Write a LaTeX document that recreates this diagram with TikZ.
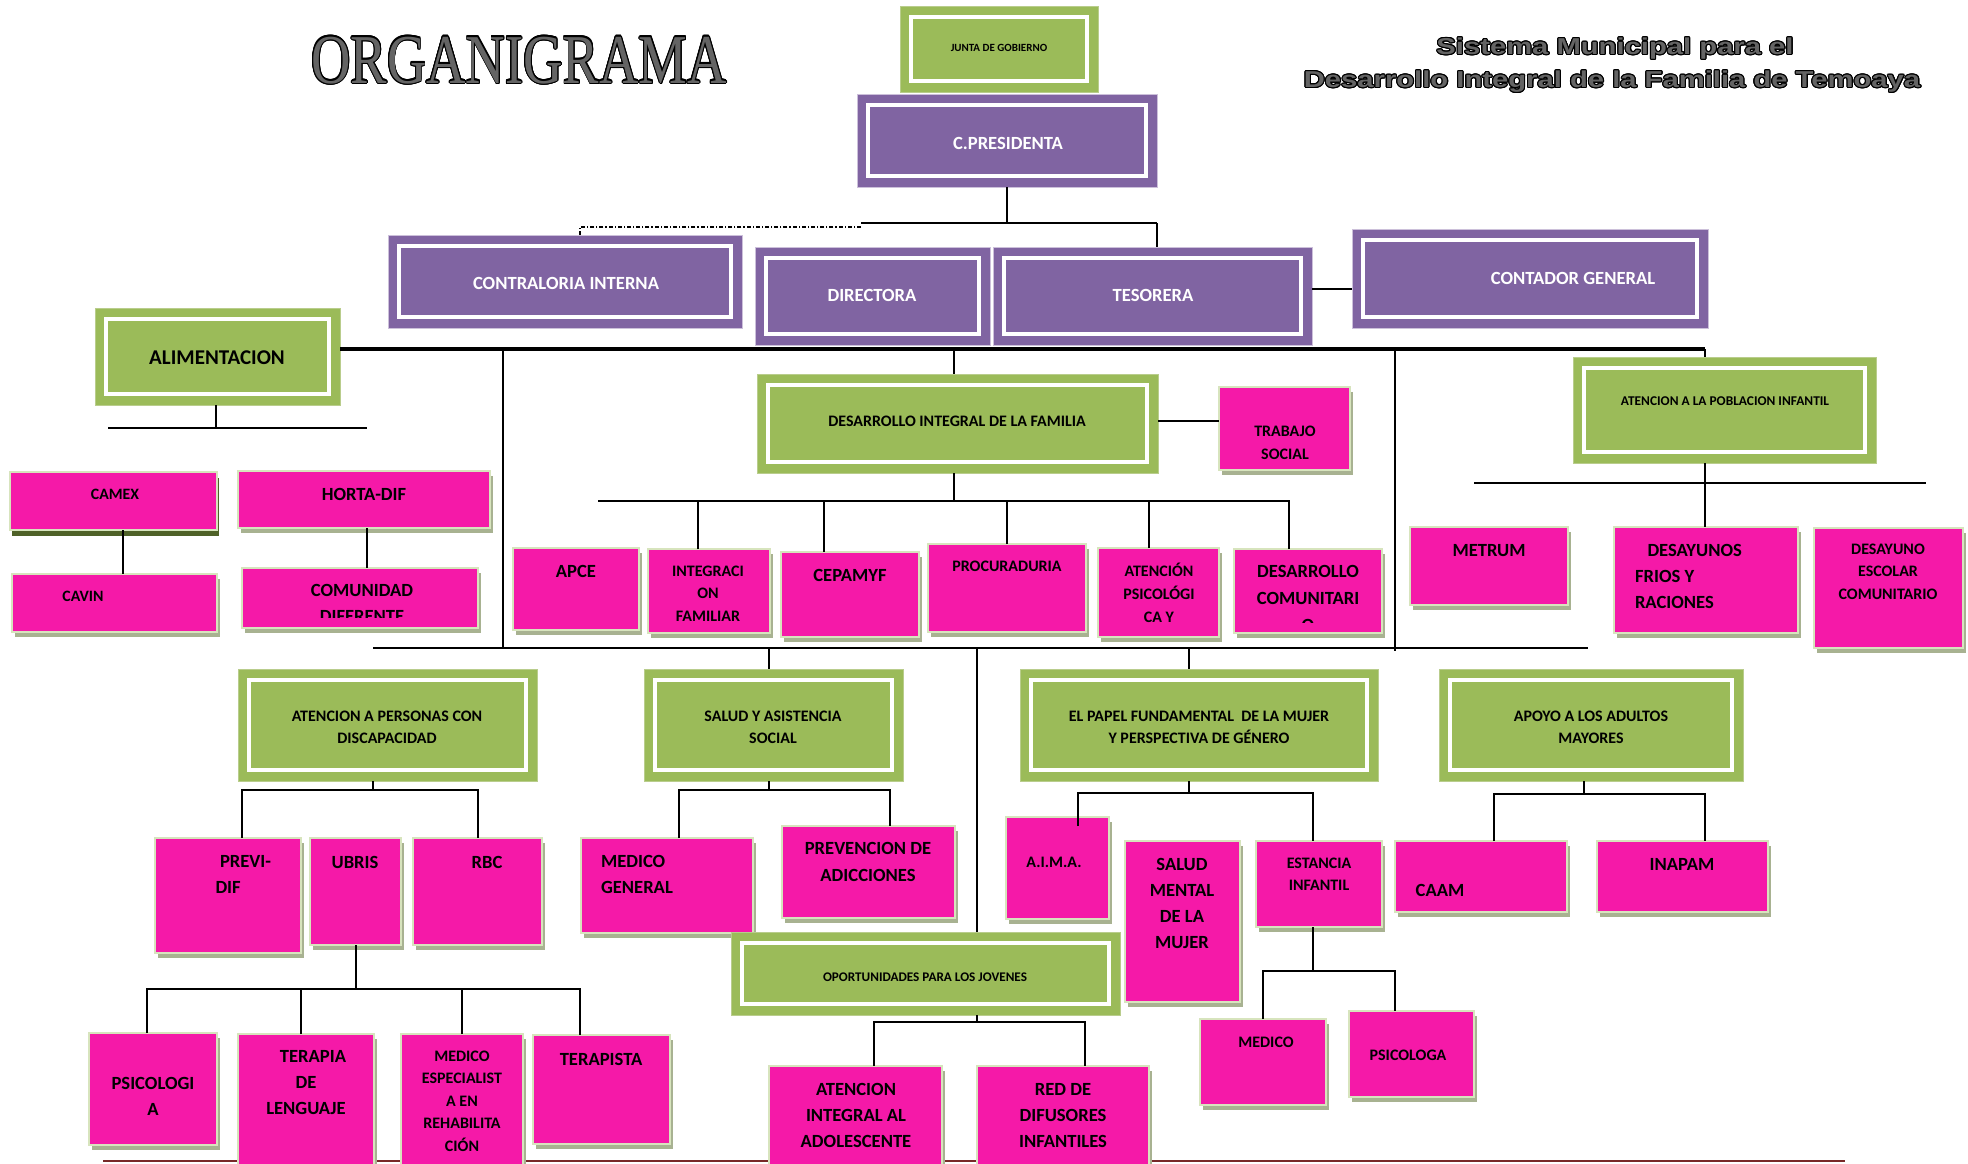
\documentclass[tikz,border=0pt]{standalone}
\usepackage{fontspec}
\setmainfont{Carlito}
\newfontfamily\serifT{Liberation Serif}
\newfontfamily\sansT{Liberation Sans}
\usepackage{graphicx}
\usepackage{contour}
\contourlength{0.6pt}
\usetikzlibrary{shadows}
\definecolor{greenc}{RGB}{155,187,89}
\definecolor{greenedge}{RGB}{185,205,140}
\definecolor{purplec}{RGB}{128,100,162}
\definecolor{purpleedge}{RGB}{204,192,218}
\definecolor{pinkc}{RGB}{245,25,168}
\definecolor{pborder}{RGB}{215,228,189}
\definecolor{shadowc}{RGB}{168,178,145}
\definecolor{camexsh}{RGB}{79,98,40}
\definecolor{bottomc}{RGB}{120,40,40}
\definecolor{titlegray}{RGB}{100,100,100}
\tikzset{
  every node/.style={inner sep=0pt, outer sep=0pt},
  insetwhite/.style={path picture={\draw[white, line width=2.2pt]
      ([shift={(5.5pt,-5.5pt)}]path picture bounding box.north west) rectangle
      ([shift={(-5.5pt,5.5pt)}]path picture bounding box.south east);}},
  greenb/.style={rectangle, fill=greenc, draw=greenedge, line width=0.5pt, insetwhite},
  purpleb/.style={rectangle, fill=purplec, draw=purpleedge, line width=0.5pt, insetwhite},
  pinkb/.style={rectangle, fill=pinkc, draw=pborder, line width=1.2pt,
      drop shadow={shadow xshift=1.5pt, shadow yshift=-2.5pt, fill=shadowc, opacity=1}},
  camexb/.style={rectangle, fill=pinkc, draw=pborder, line width=1.2pt,
      drop shadow={shadow xshift=1.2pt, shadow yshift=-3pt, fill=camexsh, opacity=1}},
  conn/.style={draw=black, line width=1pt},
  bus/.style={draw=black, line width=1.3pt},
  mainbus/.style={draw=black, line width=1.6pt},
  dashl/.style={draw=black, line width=0.6pt, dash pattern=on 2pt off 1pt on 0.6pt off 1pt},
  tA/.style={font=\fontsize{9.3}{13}\selectfont\bfseries, align=center},
  tB/.style={font=\fontsize{8}{11.25}\selectfont\bfseries, align=center},
  tG/.style={font=\fontsize{8}{11}\selectfont\bfseries, align=center},
  tW/.style={font=\fontsize{9.3}{12}\selectfont\bfseries, text=white},
  tS/.style={font=\fontsize{6.7}{9}\selectfont\bfseries},
}
\newcommand\bx[6]{\node[#1, minimum width={(#5-#3)*0.5pt}, minimum height={(#6-#4)*0.5pt}] (#2) at ({(#3+#5)/2},{(#4+#6)/2}) {};}
\begin{document}
\begin{tikzpicture}[x=0.5pt, y=-0.5pt]
\useasboundingbox (0,0) rectangle (1968,1163);
% bottom line
\coordinate (bl1) at (103,1161); \coordinate (bl2) at (1845,1161);
\draw[draw=bottomc, line width=1pt] (bl1) -- (bl2);

% titles
\node[anchor=base] (title) at (519,83) {\serifT\fontsize{35}{35}\selectfont\scalebox{0.78}[1]{\contourlength{0.55pt}\contour{black}{\textcolor{titlegray}{ORGANIGRAMA}}}};
\node[anchor=base] (sub1) at (1615,54.5) {\sansT\bfseries\fontsize{11.5}{12}\selectfont\scalebox{1.27}[1]{\contourlength{0.45pt}\contour{black}{\textcolor{titlegray}{Sistema Municipal para el}}}};
\node[anchor=base] (sub2) at (1612,87.5) {\sansT\bfseries\fontsize{11.5}{12}\selectfont\scalebox{1.27}[1]{\contourlength{0.45pt}\contour{black}{\textcolor{titlegray}{Desarrollo Integral de la Familia de Temoaya}}}};

% ---------- boxes ----------
\bx{greenb}{junta}{900}{6}{1098}{92}
\bx{purpleb}{pres}{857}{94}{1157}{187}
\bx{purpleb}{contra}{388}{235}{742}{328}
\bx{purpleb}{direc}{755}{247}{990}{345}
\bx{purpleb}{teso}{993}{247}{1312}{345}
\bx{purpleb}{conta}{1352}{229}{1708}{328}
\bx{greenb}{alim}{95}{308}{340}{405}
\bx{greenb}{dif}{757}{374}{1158}{473}
\bx{pinkb}{trab}{1219}{387}{1350}{470}
\bx{greenb}{infan}{1573}{357}{1876}{463}
\bx{camexb}{camex}{10}{472}{217}{530}
\bx{pinkb}{cavin}{12}{574}{217}{632}
\bx{pinkb}{horta}{238}{471}{490}{528}
\bx{pinkb}{comun}{242}{568}{478}{628}
\bx{pinkb}{apce}{513}{548}{639}{630}
\bx{pinkb}{integ}{648}{549}{770}{633}
\bx{pinkb}{cepa}{781}{552}{919}{637}
\bx{pinkb}{procu}{928}{544}{1086}{632}
\bx{pinkb}{psico}{1098}{548}{1219}{637}
\bx{pinkb}{desco}{1234}{549}{1382}{633}
\bx{pinkb}{metrum}{1410}{527}{1568}{605}
\bx{pinkb}{desay}{1614}{527}{1798}{633}
\bx{pinkb}{desesc}{1814}{528}{1963}{648}
\bx{greenb}{dis}{238}{669}{537}{781}
\bx{greenb}{salud}{644}{669}{903}{781}
\bx{greenb}{papel}{1020}{669}{1378}{781}
\bx{greenb}{apoyo}{1439}{669}{1743}{781}
\bx{pinkb}{previ}{155}{838}{301}{953}
\bx{pinkb}{ubris}{310}{838}{401}{945}
\bx{pinkb}{rbc}{413}{838}{542}{945}
\bx{pinkb}{psicol}{89}{1033}{217}{1145}
\bx{pinkb}{terap}{238}{1034}{374}{1172}
\bx{pinkb}{medesp}{401}{1034}{523}{1172}
\bx{pinkb}{terapista}{533}{1035}{670}{1144}
\bx{pinkb}{medgen}{581}{838}{753}{933}
\bx{pinkb}{prev}{782}{826}{955}{918}
\bx{greenb}{oport}{731}{932}{1120}{1015}
\bx{pinkb}{adol}{769}{1066}{942}{1172}
\bx{pinkb}{red}{977}{1066}{1149}{1172}
\bx{pinkb}{aima}{1006}{817}{1109}{919}
\bx{pinkb}{salme}{1125}{841}{1240}{1002}
\bx{pinkb}{estan}{1256}{841}{1382}{927}
\bx{pinkb}{medico}{1200}{1019}{1326}{1105}
\bx{pinkb}{psicologa}{1349}{1011}{1474}{1097}
\bx{pinkb}{caam}{1395}{841}{1567}{912}
\bx{pinkb}{inapam}{1597}{841}{1768}{912}

% ---------- texts ----------
\node[font=\fontsize{5.5}{6}\selectfont\bfseries] (junta-t) at (999,48) {JUNTA DE GOBIERNO};
\node[tW] (pres-t) at (1008,143) {C.PRESIDENTA};
\node[tW] (contra-t) at (566,283) {CONTRALORIA INTERNA};
\node[tW] (direc-t) at (872,295) {DIRECTORA};
\node[tW] (teso-t) at (1153,295) {TESORERA};
\node[tW] (conta-t) at (1573,278) {CONTADOR GENERAL};
\node[font=\fontsize{10.5}{12}\selectfont\bfseries] (alim-t) at (217,358) {ALIMENTACION};
\node[tB] (dif-t) at (957,421) {DESARROLLO INTEGRAL DE LA FAMILIA};
\node[tB, font=\fontsize{8}{11.5}\selectfont\bfseries] (trab-t) at (1285,442.5) {TRABAJO\\SOCIAL};
\node[tS] (infan-t) at (1725,401) {ATENCION A LA POBLACION INFANTIL};
\node[font=\fontsize{7.9}{10}\selectfont\bfseries] (camex-t) at (115,494) {CAMEX};
\node[font=\fontsize{7.9}{10}\selectfont\bfseries] (cavin-t) at (83,596) {CAVIN};
\node[tA] (horta-t) at (364,494) {HORTA-DIF};
\begin{scope}
\clip (comun.north west) rectangle (478,617);
\node[tA] (comun-t) at (362,603) {COMUNIDAD\\DIFERENTE};
\end{scope}
\node[tA] (apce-t) at (576,571) {APCE};
\node[tB] (integ-t) at (708,593.5) {INTEGRACI\\ON\\FAMILIAR};
\node[tA] (cepa-t) at (850,575) {CEPAMYF};
\node[tB] (procu-t) at (1007,566) {PROCURADURIA};
\node[tB, font=\fontsize{8}{11.5}\selectfont\bfseries] (psico-t) at (1159,593) {ATENCIÓN\\PSICOLÓGI\\CA Y};
\begin{scope}
\clip (desco.north west) rectangle (1382,622);
\node[tA, font=\fontsize{9.3}{13.5}\selectfont\bfseries] (desco-t) at (1308,598) {DESARROLLO\\COMUNITARI\\O};
\end{scope}
\node[tA] (metrum-t) at (1489,551) {METRUM};
\node[tA, align=left, anchor=west] (desay-t) at (1635,576.5) {\hspace*{6.25pt}DESAYUNOS\\FRIOS Y\\RACIONES};
\node[tB] (desesc-t) at (1888,571.5) {DESAYUNO\\ESCOLAR\\COMUNITARIO};
\node[tG] (dis-t) at (387,727) {ATENCION A PERSONAS CON\\DISCAPACIDAD};
\node[tG] (salud-t) at (773,727) {SALUD Y ASISTENCIA\\SOCIAL};
\node[tG] (papel-t) at (1199,727) {EL PAPEL FUNDAMENTAL\ \ DE LA MUJER\\Y PERSPECTIVA DE GÉNERO};
\node[tG] (apoyo-t) at (1591,727) {APOYO A LOS ADULTOS\\MAYORES};
\node[tA, align=left, anchor=west] (previ-t) at (215.5,874.5) {\hspace*{2.25pt}PREVI-\\DIF};
\node[tA] (ubris-t) at (355,862) {UBRIS};
\node[tA] (rbc-t) at (487,862) {RBC};
\node[tA] (psicol-t) at (153,1096) {PSICOLOGI\\A};
\node[tA] (terap-t) at (306,1083) {\hspace*{7pt}TERAPIA\\DE\\LENGUAJE};
\node[tB] (medesp-t) at (462,1101) {MEDICO\\ESPECIALIST\\A EN\\REHABILITA\\CIÓN};
\node[tA] (terapista-t) at (601,1059) {TERAPISTA};
\node[tA, align=left, anchor=west] (medgen-t) at (601,874) {MEDICO\\GENERAL};
\node[tA, font=\fontsize{9.3}{13.5}\selectfont\bfseries] (prev-t) at (868,861.5) {PREVENCION DE\\ADICCIONES};
\node[font=\fontsize{6.6}{8}\selectfont\bfseries] (oport-t) at (925,977) {OPORTUNIDADES PARA LOS JOVENES};
\node[tA] (adol-t) at (856,1115.5) {ATENCION\\INTEGRAL AL\\ADOLESCENTE};
\node[tA] (red-t) at (1063,1115.5) {RED DE\\DIFUSORES\\INFANTILES};
\node[tB] (aima-t) at (1054,862) {A.I.M.A.};
\node[tA] (salme-t) at (1182,903.5) {SALUD\\MENTAL\\DE LA\\MUJER};
\node[tG] (estan-t) at (1319,874) {ESTANCIA\\INFANTIL};
\node[tB] (medico-t) at (1266,1042) {MEDICO};
\node[tB] (psicologa-t) at (1408,1055) {PSICOLOGA};
\node[tA] (caam-t) at (1440,890) {CAAM};
\node[tA] (inapam-t) at (1682,864) {INAPAM};

% ---------- connector coordinates ----------
\coordinate (b1L) at (861,223); \coordinate (b1R) at (1157,223);
\coordinate (dshR) at (861,227); \coordinate (dshL) at (580,227);
\coordinate (tcL) at (1312,289);
\coordinate (mbL) at (340,349); \coordinate (mbR) at (1705,349);
\coordinate (mbA) at (503,349); \coordinate (mbB) at (954,349); \coordinate (mbC) at (1395,349);
\coordinate (lbL) at (373,648); \coordinate (lbR) at (1588,648);
\coordinate (lbA) at (769,648); \coordinate (lbB) at (977,648); \coordinate (lbC) at (1189,648);
\coordinate (alimB) at (216,428); \coordinate (alimL) at (108,428); \coordinate (alimR) at (367,428);
\coordinate (ccx) at (123,0); \coordinate (hcx) at (367,0);
\coordinate (trabY) at (1158,421);
\coordinate (difB) at (954,501); \coordinate (difL) at (598,501); \coordinate (difR) at (1289,501);
\coordinate (infB) at (1705,483); \coordinate (infL) at (1474,483); \coordinate (infR) at (1926,483);
\coordinate (disB) at (373,790);
\coordinate (ubB) at (356,989);
\coordinate (salB) at (769,790);
\coordinate (opB) at (977,1022);
\coordinate (papB) at (1189,793);
\coordinate (estB) at (1313,971);
\coordinate (apoB) at (1584,794);

% ---------- connectors ----------
\draw[conn] (pres.south) -- (pres.south |- b1L);
\draw[bus] (b1L) -- (b1R);
\draw[conn] (b1R) -- (b1R |- teso.north);
\draw[dashl] (dshR) -- (dshL) -- (dshL |- contra.north);
\draw[bus] (tcL) -- (tcL -| conta.west);
\draw[mainbus] (mbL) -- (mbR);
\draw[conn] (mbR) -- (mbR |- infan.north);
\draw[conn] (mbB) -- (mbB |- dif.north);
\draw[conn] (mbA) -- (mbA |- lbL);
\draw[conn] (mbC) -- ([yshift=-1.5pt]mbC |- lbL);
\draw[bus] (lbL) -- (lbR);
\draw[conn] (lbA) -- (lbA |- salud.north);
\draw[conn] (lbB) -- (lbB |- oport.north);
\draw[conn] (lbC) -- (lbC |- papel.north);

\draw[conn] (alimB |- alim.south) -- (alimB);
\draw[conn] (alimL) -- (alimR);
\draw[conn] (ccx |- camex.south) -- (ccx |- cavin.north);
\draw[conn] (hcx |- horta.south) -- (hcx |- comun.north);
\draw[bus] (trabY) -- (trabY -| trab.west);

\draw[conn] (difB |- dif.south) -- (difB);
\draw[bus] (difL) -- (difR);
\draw[conn] ([xshift=-5.5pt]integ.north) |- (difB);
\draw[conn] ([xshift=-13pt]cepa.north) |- (difB);
\draw[conn] (procu.north) |- (difB);
\draw[conn] ([xshift=-4.75pt]psico.north) |- (difB);
\draw[conn] ([xshift=-9.5pt]desco.north) |- (difB);

\draw[conn] (infB |- infan.south) -- (infB |- desay.north);
\draw[bus] (infL) -- (infR);

\draw[conn] (disB |- dis.south) -- (disB);
\draw[conn] ([xshift=7pt]previ.north) |- (disB) -| (rbc.north);

\draw[conn] (ubB |- ubris.south) -- (ubB);
\draw[conn] ([xshift=-3pt]psicol.north) |- (ubB) -| ([xshift=-10.75pt]terapista.north);
\draw[conn] ([xshift=-2.5pt]terap.north) |- (ubB);
\draw[conn] (medesp.north) |- (ubB);

\draw[conn] (salB |- salud.south) -- (salB);
\draw[conn] ([xshift=6pt]medgen.north) |- (salB) -| ([xshift=10.75pt]prev.north);

\draw[conn] (opB |- oport.south) -- (opB);
\draw[conn] ([xshift=9.25pt]adol.north) |- (opB) -| ([xshift=11pt]red.north);

\draw[conn] (papB |- papel.south) -- (papB);
\draw[conn] ([xshift=10.25pt, yshift=-4.5pt]aima.north) |- (papB) -| ([xshift=-3pt]estan.north);

\draw[conn] (estB |- estan.south) -- (estB);
\draw[conn] (medico.north) |- (estB) -| ([xshift=-8.25pt]psicologa.north);

\draw[conn] (apoB |- apoyo.south) -- (apoB);
\draw[conn] ([xshift=6.5pt]caam.north) |- (apoB) -| ([xshift=11.25pt]inapam.north);
\draw[bus] ([xshift=6.5pt]caam.north |- apoB) -- ([xshift=11.25pt]inapam.north |- apoB);
\end{tikzpicture}
\end{document}
